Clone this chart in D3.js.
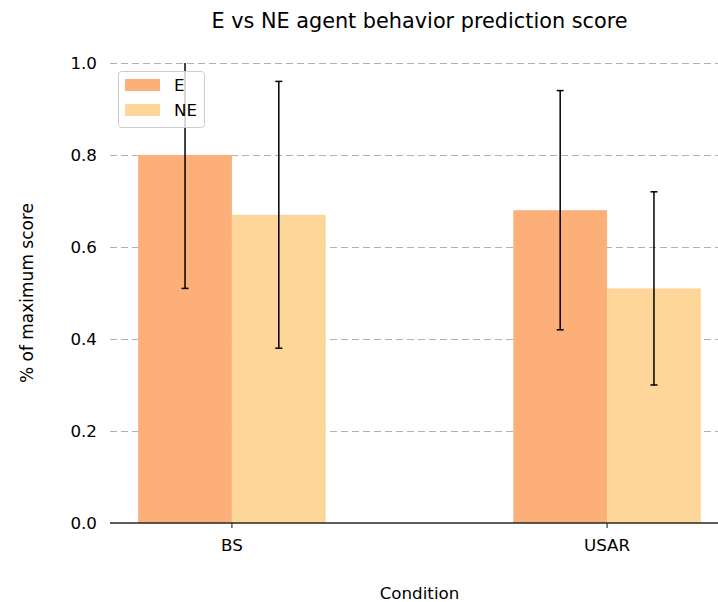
<!DOCTYPE html>
<html>
<head>
<meta charset="utf-8">
<script src="https://cdn.jsdelivr.net/npm/d3@7"></script>
<style>
	body { margin: 0; background: #fff; }
	svg { font-family: "DejaVu Sans", sans-serif; }
	.grid line { stroke: #b0b0b0; stroke-dasharray: 7,4; stroke-width: 1.2; }
	.grid path { display: none; }
</style>
</head>
<body>
<div id="chart"></div>
<script>
var categories = ["BS", "USAR"];
var seriesNames = ["E", "NE"];
var eValues = [0.80, 0.68];
var neValues = [0.67, 0.51];
var eErrors = [0.29, 0.26];
var neErrors = [0.29, 0.21];
var yTicks = [0.0, 0.2, 0.4, 0.6, 0.8, 1.0];
var colors = ["#fdaf7a", "#fed69a"];

function drawChart()
{
	var width = 718, height = 602;
	var left = 110, right = 729, top = 63, bottom = 523;
	var barWidth = 0.25;

	var svg = d3.select("#chart").append("svg")
		.attr("width", width)
		.attr("height", height);

	var x = d3.scaleLinear()
		.domain([-0.325, 1.325])
		.range([left, right]);

	var y = d3.scaleLinear()
		.domain([0, 1])
		.range([bottom, top]);

	svg.append("defs").append("clipPath")
		.attr("id", "axes-clip")
		.append("rect")
		.attr("x", left).attr("y", top)
		.attr("width", right - left).attr("height", bottom - top);

	// dashed y gridlines, under the bars
	svg.append("g")
		.attr("class", "grid")
		.attr("transform", "translate(" + left + ",0)")
		.call(d3.axisLeft(y).tickValues(yTicks.filter(function(t) { return t > 0; }))
			.tickSize(-(right - left)).tickFormat(""));

	// y tick labels, no spine
	svg.append("g")
		.selectAll("text")
		.data(yTicks)
		.enter()
		.append("text")
		.attr("x", 97)
		.attr("y", function(d) { return y(d); })
		.attr("dy", "0.36em")
		.attr("text-anchor", "end")
		.style("font-size", "16.7px")
		.text(function(d) { return d.toFixed(1); });

	var series = [
		{ name: seriesNames[0], values: eValues, errors: eErrors, offset: -barWidth / 2 },
		{ name: seriesNames[1], values: neValues, errors: neErrors, offset: barWidth / 2 }
	];

	var g = svg.selectAll(".series")
		.data(series)
		.enter()
		.append("g")
		.attr("class", "series");

	g.selectAll("rect")
		.data(function(s, i) { return s.values.map(function(v, j) { return { v: v, j: j, s: s, i: i }; }); })
		.enter()
		.append("rect")
		.attr("x", function(d) { return x(d.j + d.s.offset - barWidth / 2); })
		.attr("width", function(d) { return x(barWidth) - x(0); })
		.attr("y", function(d) { return y(d.v); })
		.attr("height", function(d) { return y(0) - y(d.v); })
		.style("fill", function(d) { return colors[d.i]; });

	// error bars, clipped to the axes box
	var err = svg.append("g").attr("clip-path", "url(#axes-clip)");
	series.forEach(function(s)
	{
		s.values.forEach(function(v, j)
		{
			var cx = x(j + s.offset);
			var lo = y(v - s.errors[j]), hi = y(v + s.errors[j]);
			err.append("line")
				.attr("x1", cx).attr("x2", cx).attr("y1", lo).attr("y2", hi)
				.style("stroke", "#000").style("stroke-width", 1.5);
			[lo, hi].forEach(function(yy)
			{
				err.append("line")
					.attr("x1", cx - 3.5).attr("x2", cx + 3.5).attr("y1", yy).attr("y2", yy)
					.style("stroke", "#000").style("stroke-width", 1.5);
			});
		});
	});

	// bottom spine and ticks
	svg.append("line")
		.attr("x1", left).attr("x2", right).attr("y1", bottom).attr("y2", bottom)
		.style("stroke", "#262626").style("stroke-width", 1.3);

	svg.append("g")
		.selectAll("line")
		.data(categories)
		.enter()
		.append("line")
		.attr("x1", function(d, i) { return x(i); })
		.attr("x2", function(d, i) { return x(i); })
		.attr("y1", bottom).attr("y2", bottom + 5)
		.style("stroke", "#262626").style("stroke-width", 1.1);

	svg.append("g")
		.selectAll("text")
		.data(categories)
		.enter()
		.append("text")
		.attr("x", function(d, i) { return x(i); })
		.attr("y", 551)
		.attr("text-anchor", "middle")
		.style("font-size", "16.7px")
		.text(function(d) { return d; });

	var midX = (left + right) / 2;

	svg.append("text")
		.attr("x", midX).attr("y", 599)
		.attr("text-anchor", "middle")
		.style("font-size", "16.7px")
		.text("Condition");

	svg.append("text")
		.attr("transform", "translate(33," + ((top + bottom) / 2) + ") rotate(-90)")
		.attr("text-anchor", "middle")
		.style("font-size", "17px")
		.text("% of maximum score");

	svg.append("text")
		.attr("x", midX).attr("y", 28)
		.attr("text-anchor", "middle")
		.style("font-size", "20.8px")
		.text("E vs NE agent behavior prediction score");

	// legend
	var legend = svg.append("g");
	legend.append("rect")
		.attr("x", 118.5).attr("y", 71.5)
		.attr("width", 86).attr("height", 56)
		.attr("rx", 3)
		.style("fill", "#fff").style("fill-opacity", 0.8)
		.style("stroke", "#cccccc").style("stroke-width", 1);

	seriesNames.forEach(function(name, i)
	{
		legend.append("rect")
			.attr("x", 125).attr("y", 79 + i * 25)
			.attr("width", 35).attr("height", 12)
			.style("fill", colors[i]);
		legend.append("text")
			.attr("x", 174).attr("y", 91 + i * 25)
			.style("font-size", "16.7px")
			.text(name);
	});
}

drawChart();
</script>
</body>
</html>
